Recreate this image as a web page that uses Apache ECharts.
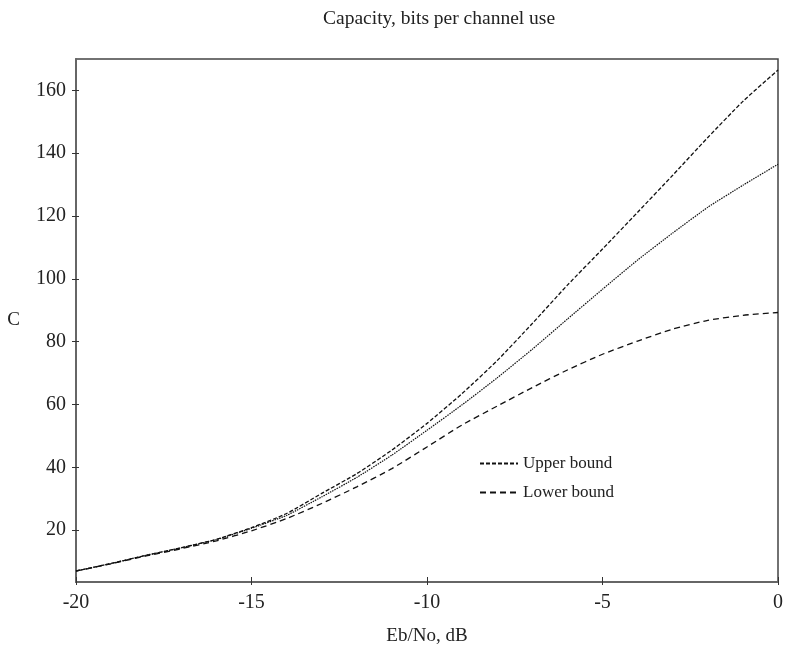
<!DOCTYPE html>
<html>
<head>
<meta charset="utf-8">
<script src="https://cdn.jsdelivr.net/npm/echarts@6/dist/echarts.min.js"></script>
<style>
    html, body { margin: 0; padding: 0; background: #fff; }
    #chart { width: 786px; height: 651px; }
</style>
</head>
<body>
<div id="chart"></div>
<script>
var ebno = [-20, -19, -18, -17, -16, -15, -14, -13, -12, -11, -10, -9, -8, -7, -6, -5, -4, -3, -2, -1, 0];
var upperBound = [7.0, 9.4, 12.0, 14.4, 17.1, 20.8, 25.3, 31.7, 38.0, 45.5, 54.0, 63.5, 74.0, 85.8, 98.0, 109.5, 121.2, 133.0, 145.0, 156.5, 166.5];
var capacity = [7.0, 9.4, 12.0, 14.4, 17.0, 20.6, 24.7, 30.6, 36.8, 43.9, 51.8, 59.9, 68.5, 77.6, 87.2, 96.7, 106.0, 114.6, 122.8, 129.8, 136.5];
var lowerBound = [7.0, 9.3, 11.8, 14.1, 16.6, 19.8, 23.7, 28.5, 33.8, 39.6, 46.5, 53.5, 59.5, 65.4, 71.0, 76.0, 80.2, 84.0, 86.8, 88.4, 89.3];
var yTicks = [20, 40, 60, 80, 100, 120, 140, 160];

function pairs(xs, ys) {
    return xs.map(function (x, i) { return [x, ys[i]]; });
}

var font = 'Liberation Serif';
var ink = '#222';
var axisGray = '#666';

var chart = echarts.init(document.getElementById('chart'));
var option = {
    backgroundColor: '#fff',
    animation: false,
    title: {
        text: 'Capacity, bits per channel use',
        left: 318,
        top: 4,
        textStyle: { fontFamily: font, fontSize: 19.5, fontWeight: 'normal', color: ink }
    },
    legend: {
        orient: 'vertical',
        left: 474,
        top: 450,
        itemWidth: 38,
        itemHeight: 10,
        itemGap: 12,
        data: ['Upper bound', 'Lower bound'],
        itemStyle: { color: 'transparent', borderColor: 'transparent', borderWidth: 0 },
        textStyle: { fontFamily: font, fontSize: 17, color: ink }
    },
    grid: {
        left: 76,
        right: 8,
        top: 59,
        bottom: 69,
        show: true,
        borderColor: '#444',
        borderWidth: 1.5
    },
    xAxis: [
        {
            type: 'value',
            min: -20,
            max: 0,
            interval: 5,
            name: 'Eb/No, dB',
            nameLocation: 'middle',
            nameGap: 45,
            nameTextStyle: { fontFamily: font, fontSize: 19, color: ink },
            axisLine: { onZero: false, lineStyle: { color: axisGray, width: 2 } },
            axisTick: { inside: true, length: 5, lineStyle: { color: '#333' } },
            axisLabel: { fontFamily: font, fontSize: 20, color: ink, margin: 11 },
            splitLine: { show: false }
        },
        {
            // short outer half of the crossing x ticks
            type: 'value',
            position: 'bottom',
            min: -20,
            max: 0,
            interval: 5,
            axisLine: { show: false, onZero: false },
            axisTick: { length: 3, lineStyle: { color: '#333' } },
            axisLabel: { show: false },
            splitLine: { show: false }
        }
    ],
    yAxis: [
        {
            type: 'value',
            min: 3.5,
            max: 170,
            name: 'C',
            nameLocation: 'middle',
            nameRotate: 0,
            nameGap: 56,
            nameTextStyle: { fontFamily: font, fontSize: 19, color: ink },
            axisLine: { onZero: false, lineStyle: { color: axisGray, width: 2 } },
            axisTick: { length: 4, customValues: yTicks, lineStyle: { color: '#333' } },
            axisLabel: { fontFamily: font, fontSize: 20, color: ink, margin: 10, customValues: yTicks },
            splitLine: { show: false }
        },
        {
            // inner half of the crossing y ticks
            type: 'value',
            position: 'left',
            min: 3.5,
            max: 170,
            axisLine: { show: false, onZero: false },
            axisTick: { inside: true, length: 3, customValues: yTicks, lineStyle: { color: '#333' } },
            axisLabel: { show: false, customValues: yTicks },
            splitLine: { show: false }
        }
    ],
    series: [
        {
            name: 'Upper bound',
            type: 'line',
            data: pairs(ebno, upperBound),
            symbol: 'none',
            smooth: 0.2,
            lineStyle: { color: '#111', width: 1.3, type: [4, 2] },
            itemStyle: { color: '#111' }
        },
        {
            name: 'Capacity',
            type: 'line',
            data: pairs(ebno, capacity),
            symbol: 'none',
            smooth: 0.15,
            lineStyle: { color: '#111', width: 1.2, type: [1.5, 1] },
            itemStyle: { color: '#111' }
        },
        {
            name: 'Lower bound',
            type: 'line',
            data: pairs(ebno, lowerBound),
            symbol: 'none',
            smooth: 0.2,
            lineStyle: { color: '#111', width: 1.3, type: [6, 4] },
            itemStyle: { color: '#111' }
        }
    ]
};
chart.setOption(option);
</script>
</body>
</html>
